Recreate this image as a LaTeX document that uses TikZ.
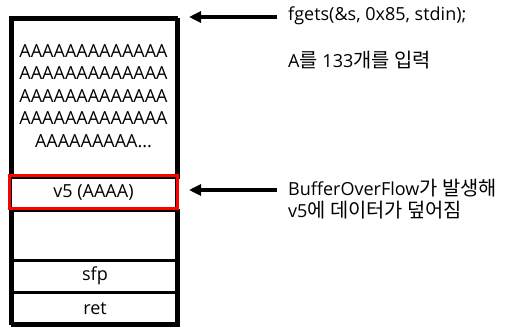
\documentclass[tikz,border=0pt]{standalone}
\usepackage{fontspec}
\setmainfont{Open Sans}
\newfontfamily\kr[Scale=1.1]{Noto Sans CJK KR}
\usetikzlibrary{arrows.meta}
\begin{document}
\begin{tikzpicture}[x=1pt,y=-1pt,
  cell/.style={draw=black,line width=3pt,minimum width=166pt,inner sep=0pt,anchor=north west},
  redcell/.style={draw=red,line width=3pt,inner sep=0pt},
  txt/.style={font=\fontsize{18}{22.5}\selectfont,inner sep=0pt},
  arr/.style={line width=3.3pt,-{Triangle[length=12pt,width=11pt]}}]
\useasboundingbox (0,0) rectangle (513,332);
% stack cells
\node[cell,minimum height=158pt] (buf) at (10.5,17.5) {};
\node[cell,minimum height=50pt] (gap) at (10.5,208.5) {};
\node[cell,minimum height=32.5pt] (sfp) at (10.5,258.5) {};
\node[cell,minimum height=32.5pt] (ret) at (10.5,291) {};
\draw[line width=3pt] (10.5,17.5) rectangle (176.5,323.5);
\node[redcell,minimum width=168pt,minimum height=33pt] (v5) at (93.5,192) {};
% texts
\node[txt,align=center] (as) at (93.5,96) {AAAAAAAAAAAAA\\AAAAAAAAAAAAA\\AAAAAAAAAAAAA\\AAAAAAAAAAAAA\\AAAAAAAAA...};
\node[txt] (v5t) at (v5.center) {v5 (AAAA)};
\node[txt] (sfpt) at (sfp.center) {sfp};
\node[txt] (rett) at (ret.center) {ret};
\node[txt,anchor=west] (fgets) at (288,16) {fgets(\&s, 0x85, stdin);};
\node[txt,anchor=west] (inp) at (288,60) {A{\kr 를} 133{\kr 개를 입력}};
\node[txt,anchor=west,align=left] (bof) at (288,199) {BufferOverFlow{\kr 가 발생해}\\v5{\kr 에 데이터가 덮어짐}};
% arrows
\coordinate (t1) at (189,17);
\coordinate (t2) at (189,190);
\draw[arr] (277,17) -- (t1);
\draw[arr] (277,190) -- (t2);
\end{tikzpicture}
\end{document}
